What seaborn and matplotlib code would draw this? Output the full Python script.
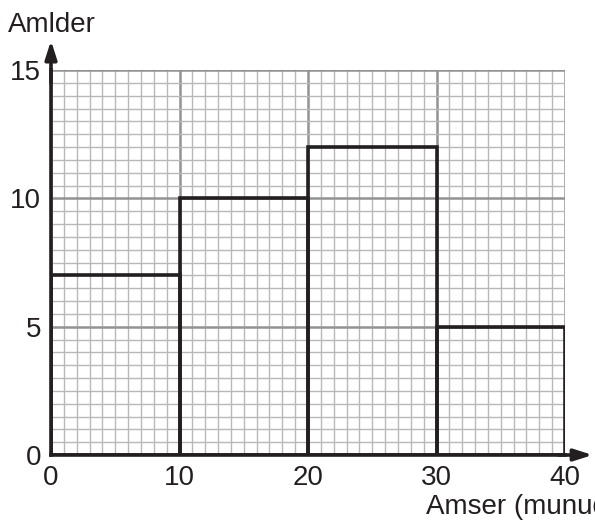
import numpy as np
import pandas as pd
import matplotlib
matplotlib.use("Agg")
import matplotlib.pyplot as plt
import seaborn as sns

# data
bin_edges = [0, 10, 20, 30, 40]
bin_mids = [5, 15, 25, 35]
amlder = [7, 10, 12, 5]
x_ticks = [0, 10, 20, 30, 40]
y_ticks = [0, 5, 10, 15]

df = pd.DataFrame({"amser": bin_mids, "amlder": amlder})

sns.set_style("white")
plt.rcParams["font.family"] = ["Liberation Sans", "DejaVu Sans"]
ink = "#231f20"

fig = plt.figure(figsize=(5.95, 5.22), dpi=100)
ax = fig.add_axes([51 / 595, 1 - 455 / 522, (565 - 51) / 595, (455 - 70) / 522])

# graph paper grid
ax.set_xticks(np.arange(0, 41, 1), minor=True)
ax.set_yticks(np.arange(0, 15.01, 0.5), minor=True)
ax.set_xticks(x_ticks)
ax.set_yticks(y_ticks)
ax.grid(which="minor", color="#b8b8b8", linewidth=1.0)
ax.grid(which="major", color="#939393", linewidth=1.8)
ax.set_axisbelow(True)

sns.histplot(data=df, x="amser", weights="amlder", bins=bin_edges,
             fill=False, color=ink, edgecolor=ink, linewidth=2.6, ax=ax)

ax.set_xlim(0, 40)
ax.set_ylim(0, 15)
for s in ["top", "right"]:
    ax.spines[s].set_visible(False)
for s in ["left", "bottom"]:
    ax.spines[s].set_color(ink)
    ax.spines[s].set_linewidth(2.6)
    ax.spines[s].set_zorder(5)

ax.tick_params(which="major", length=6, width=2, color=ink, labelsize=20,
               labelcolor=ink, pad=1)
ax.tick_params(which="minor", length=0)
ax.set_xlabel("")
ax.set_ylabel("")

# axis arrows
arrow = dict(arrowstyle="-|>,head_length=1.1,head_width=0.35", color=ink,
             linewidth=2.6, shrinkA=0, shrinkB=0)
ax.annotate("", xy=(0, 16.15), xytext=(0, 14.5), arrowprops=arrow,
            annotation_clip=False)
ax.annotate("", xy=(42.15, 0), xytext=(39.5, 0), arrowprops=arrow,
            annotation_clip=False)

# axis titles placed as in the reference (the x one runs off the right edge there too)
fig.text(8 / 595, 1 - 25 / 522, "Amlder", fontsize=20, color=ink,
         va="center", ha="left")
fig.text(426 / 595, 1 - 507 / 522, "Amser (munud)", fontsize=20, color=ink,
         va="center", ha="left")

fig.savefig("out.png", dpi=100)
